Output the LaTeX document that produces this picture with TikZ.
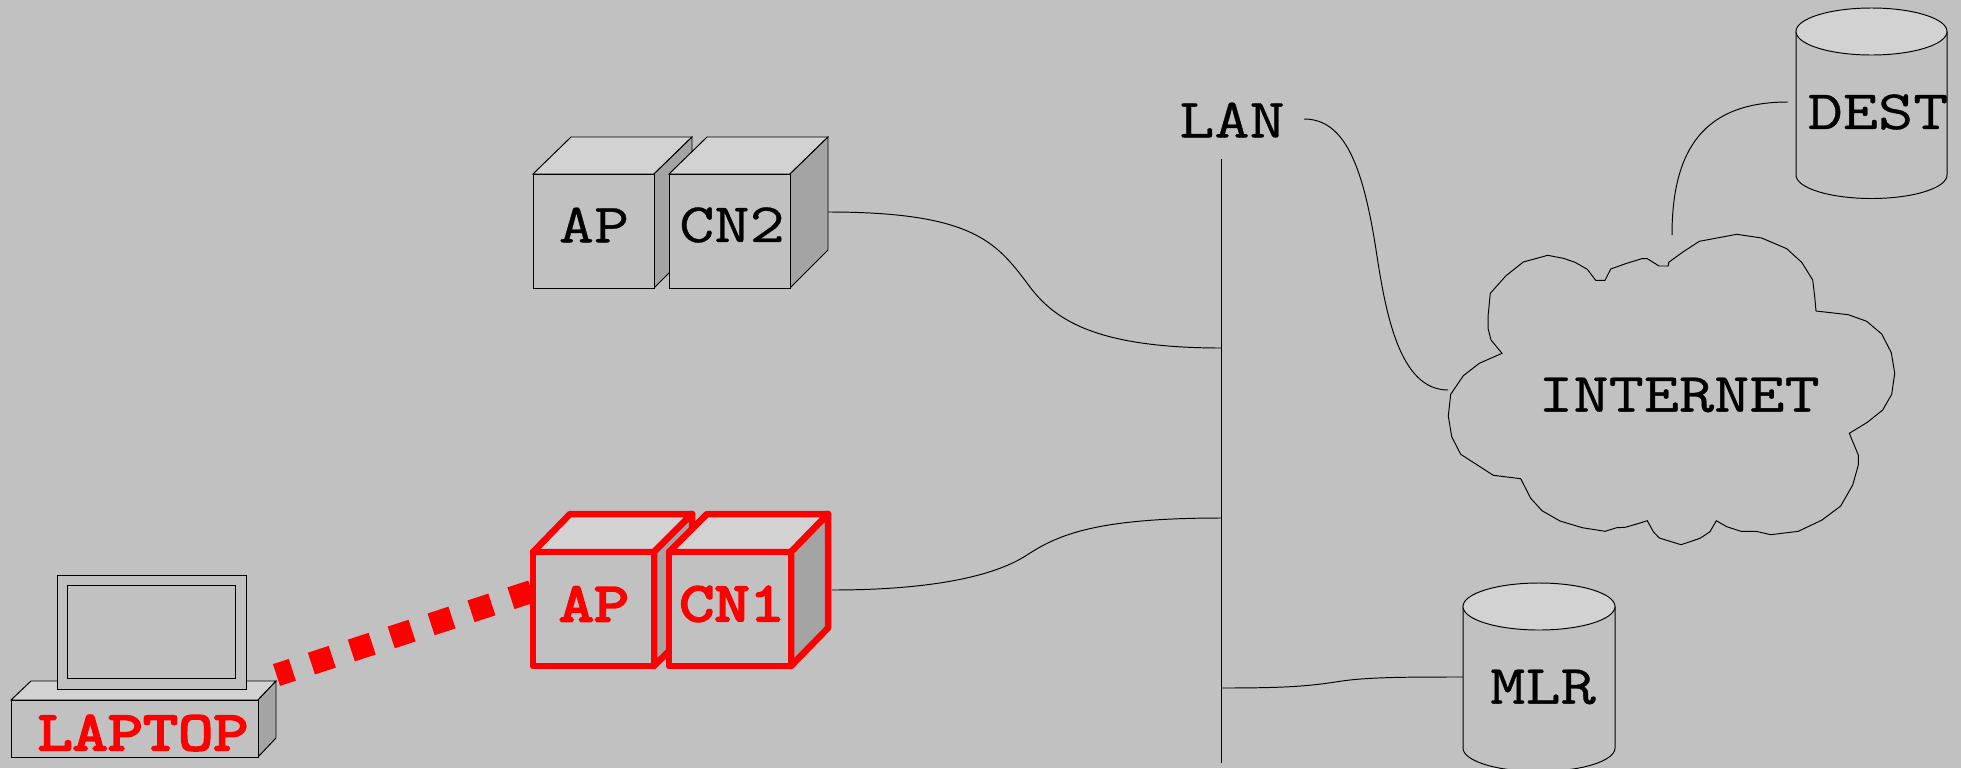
\documentclass[tikz,border=0pt]{standalone}
\usepackage{fontspec}
\setmonofont{Latin Modern Mono}[FakeStretch=1.23, FakeBold=.6, BoldFont=*, BoldFeatures={FakeBold=4}]

\definecolor{bggray}{gray}{.755}
\definecolor{topgray}{gray}{.825}
\definecolor{sidegray}{gray}{.645}

\tikzset{
	thin line/.style={line width=.55pt, black},
	labeltext/.style={inner sep=0pt, font=\fontsize{31.6}{34}\selectfont\ttfamily},
	redtext/.style={labeltext, font=\fontsize{31.6}{34}\selectfont\ttfamily\bfseries, red},
	red line/.style={line width=3.7pt, red, line join=round}
}

\begin{document}
\begin{tikzpicture}[x=.02cm,y=-.02cm]
		\useasboundingbox (0,0) rectangle (1961,768);
		\clip (0,0) rectangle (1961,768);
		\fill[bggray] (0,0) rectangle (1961,768);

		\coordinate (lanstart) at (1304,119);
		\coordinate (cloudwest) at (1448,390);
		\coordinate (cloudnorth) at (1672,235);
		\coordinate (destwest) at (1788,102);
		\coordinate (bustop) at (1221.5,159);
		\coordinate (busbottom) at (1221.5,763);
		\coordinate (bustwo) at (1221.5,348);
		\coordinate (busone) at (1221.5,518);
		\coordinate (busmlr) at (1221.5,688);
		\coordinate (cntwoeast) at (828,212);
		\coordinate (cnoneeast) at (832,590);
		\coordinate (mlrwest) at (1463,677);
		\coordinate (laptopeast) at (276.5,675);
		\coordinate (aponewest) at (533,591);

		\draw[thin line] (bustop) -- (busbottom);
		\draw[thin line] (cntwoeast) .. controls (972,212) and (996,242) .. (1027,283) .. controls (1052,318) and (1092,348) .. (bustwo);
		\draw[thin line] (cnoneeast) .. controls (932,590) and (995,576) .. (1027,555) .. controls (1059,534) and (1098,518) .. (busone);
		\draw[thin line] (busmlr) .. controls (1290,688) and (1310,686) .. (1342,681) .. controls (1370,677) and (1410,677) .. (mlrwest);
		\draw[thin line] (lanstart) .. controls (1344,119) and (1363,164) .. (1376.5,253) .. controls (1386,315) and (1400,390) .. (cloudwest);
		\draw[thin line] (cloudnorth) .. controls (1672,148) and (1705,102) .. (destwest);

		\draw[thin line, fill=topgray] (533,174) -- (571,137) -- (692,137) -- (654,174) -- cycle;
		\draw[thin line, fill=sidegray] (654,174) -- (692,137) -- (692,250) -- (654,288) -- cycle;
		\draw[thin line, fill=bggray] (533,174) rectangle (654,288);
		\draw[thin line, fill=topgray] (669,174) -- (707,137) -- (828,137) -- (790,174) -- cycle;
		\draw[thin line, fill=sidegray] (790,174) -- (828,137) -- (828,250) -- (790,288) -- cycle;
		\draw[thin line, fill=bggray] (669,174) rectangle (790,288);
		\node[labeltext] (aptwo) at (594,225) {AP};
		\node[labeltext] (cntwo) at (732,225) {CN2};

		\draw[thin line, fill=topgray] (31,681) -- (276,681) -- (258,700) -- (11,700) -- cycle;
		\draw[thin line, fill=sidegray] (258,700) -- (276,681) -- (276,738) -- (258,757) -- cycle;
		\draw[thin line, fill=bggray] (11,700) rectangle (258,757);
		\draw[thin line, fill=bggray] (57,575) rectangle (246,689);
		\draw[thin line] (67.5,585) rectangle (235,678);
		\node[redtext] (laptop) at (143,733) {LAPTOP};

		\draw[red, line width=13pt, dash pattern=on 12.5pt off 11.4pt, dash phase=3pt] (laptopeast) -- (aponewest);

		\draw[red line, fill=topgray] (533,552) -- (570,514) -- (692,514) -- (654,552) -- cycle;
		\draw[red line, fill=sidegray] (654,552) -- (692,514) -- (692,628) -- (654,666) -- cycle;
		\draw[red line, fill=bggray] (533,552) rectangle (654,666);
		\draw[red line, fill=topgray] (669,552) -- (707,514) -- (828,514) -- (791,552) -- cycle;
		\draw[red line, fill=sidegray] (791,552) -- (828,514) -- (828,628) -- (791,666) -- cycle;
		\draw[red line, fill=bggray] (669,552) rectangle (791,666);
		\node[redtext] (apone) at (594,604) {AP};
		\node[redtext] (cnone) at (732,604) {CN1};

		\draw[thin line] (1502,353.3) -- (1491,340) -- (1488,328.3) -- (1488,316.7) -- (1490.3,293.3) -- (1506,275.7) -- (1523.3,262) -- (1547.7,255.3) -- (1563.3,258.3) -- (1575,262.3) -- (1587.3,269.3) -- (1595.7,280.3) -- (1605,280.3) -- (1610.7,269) -- (1626.7,263.3) -- (1641.7,258.7) -- (1647.3,258.7) -- (1659,266) -- (1668.3,266) -- (1668.7,262.3) -- (1683.3,251.7) -- (1699.3,241.3) -- (1736.7,234.3) -- (1761.7,238) -- (1786.7,248.7) -- (1801.7,262.3) -- (1812.7,280) -- (1814.7,296.7) -- (1816,311) -- (1848.3,314.7) -- (1866.7,321.3) -- (1881.7,334) -- (1891.3,352.7) -- (1894.7,373.3) -- (1891.7,394.3) -- (1882.7,410) -- (1867.3,422.3) -- (1849.3,433.3) -- (1858.3,455) -- (1858.3,465) -- (1852.7,485) -- (1840.7,506) -- (1822,520) -- (1798.3,531.3) -- (1770.7,534.7) -- (1756,531.3) -- (1741,531.3) -- (1726.7,526.7) -- (1716.3,520.7) -- (1710,531.7) -- (1700,538.3) -- (1681,544.7) -- (1659.3,538) -- (1653.3,531.7) -- (1647.3,520.7) -- (1636.7,524) -- (1625.3,527.3) -- (1616.7,527.7) -- (1605,531.3) -- (1582.3,527.7) -- (1560,521) -- (1542,510.7) -- (1530.7,498.3) -- (1520.7,478.7) -- (1493.3,475.3) -- (1460.7,454.3) -- (1451.7,436.7) -- (1448.3,416) -- (1450.7,394.3) -- (1463.3,375.7) -- (1479.3,363.3) -- cycle;
		\node[labeltext] (internet) at (1679,395) {INTERNET};

		\draw[thin line, fill=bggray] (1463,606.5) -- (1463,748) arc (180:0:76 and 23.5) -- (1615,606.5);
		\draw[thin line, fill=topgray] (1539,606.5) ellipse (76 and 23.5);
		\node[labeltext] (mlr) at (1543,687) {MLR};

		\draw[thin line, fill=bggray] (1796,31.5) -- (1796,175) arc (180:0:75.5 and 23.5) -- (1947,31.5);
		\draw[thin line, fill=topgray] (1871.5,31.5) ellipse (75.5 and 23.5);
		\node[labeltext] (dest) at (1878,112) {DEST};

		\node[labeltext] (lan) at (1232,120) {LAN};
	\end{tikzpicture}
\end{document}
